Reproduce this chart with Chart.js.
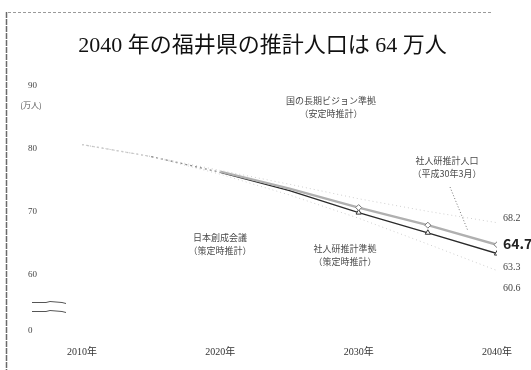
<!DOCTYPE html>
<html>
<head>
<meta charset="utf-8">
<script src="https://cdn.jsdelivr.net/npm/chart.js@4/dist/chart.umd.min.js"></script>
<style>
  html, body { margin: 0; padding: 0; background: #fff; }
  #wrap { width: 531px; height: 370px; position: relative; }
</style>
</head>
<body>
<div id="wrap"><canvas id="c"></canvas></div>
<script>
// 福井県の将来推計人口（万人）
const years = [2010, 2015, 2020, 2025, 2030, 2035, 2040];
const kuniVision = [80.6, 78.7, 76.5, 74.3, 72.0, 70.0, 68.2];  // 国の長期ビジョン準拠（安定時推計）
const ipssH30   = [80.6, 78.7, 76.3, 73.6, 70.6, 67.8, 64.7];   // 社人研推計人口（平成30年3月）
const ipssBase  = [80.6, 78.7, 76.2, 73.3, 69.8, 66.6, 63.3];   // 社人研推計準拠（策定時推計）
const sosei     = [80.6, 78.7, 75.9, 72.6, 68.9, 64.8, 60.6];   // 日本創成会議（策定時推計）
const xTickYears = [2010, 2020, 2030, 2040];
const yTickValues = [60, 70, 80, 90];
const axisFloor = 51;   // lower end of the broken axis, shown as 0

const titleText = '2040 年の福井県の推計人口は 64 万人';
const serif = '"Liberation Serif", "DejaVu Serif", "Noto Sans CJK JP", serif';
const gothic = '"Noto Sans CJK JP", sans-serif';

const pts = arr => years.map((x, i) => ({ x, y: arr[i] }));
const markFrom2030 = r => ctx => (ctx.raw && ctx.raw.x >= 2030 ? r : 0);

const datasets = [
  { label: '国の長期ビジョン準拠', data: pts(kuniVision), borderColor: '#cfcfcf', borderWidth: 1,
    borderDash: [1, 3], pointRadius: 0, endOffset: -4, endFont: 'normal 10px ' + serif },
  { label: '日本創成会議', data: pts(sosei), borderColor: '#cfcfcf', borderWidth: 1,
    borderDash: [1, 3], pointRadius: 0, endOffset: 18, endFont: 'normal 10px ' + serif },
  { label: '社人研推計人口', data: pts(ipssH30), borderColor: '#b0b0b0', borderWidth: 2.4,
    pointRadius: markFrom2030(3), pointStyle: 'rectRot', pointBackgroundColor: '#fff',
    pointBorderColor: '#777', pointBorderWidth: 1,
    segment: { borderColor: c => (c.p0.parsed.x < 2020 ? 'rgba(0,0,0,0)' : '#b0b0b0') },
    endOffset: -1, endFont: 'bold 14px ' + gothic },
  { label: '社人研推計人口（内側）', data: pts(ipssH30), borderColor: '#fff', borderWidth: 0.8,
    pointRadius: 0, segment: { borderColor: c => (c.p0.parsed.x < 2020 ? 'rgba(0,0,0,0)' : '#fff') } },
  { label: '社人研推計準拠', data: pts(ipssBase), borderColor: '#2a2a2a', borderWidth: 1.3,
    pointRadius: markFrom2030(3), pointStyle: 'triangle', pointBackgroundColor: '#fff',
    pointBorderColor: '#333', pointBorderWidth: 1,
    segment: {
      borderColor: c => (c.p0.parsed.x < 2015 ? '#c4c4c4' : c.p0.parsed.x < 2020 ? '#8a8a8a' : '#2a2a2a'),
      borderDash: c => (c.p0.parsed.x < 2020 ? [2, 3] : undefined)
    },
    endOffset: 14, endFont: 'normal 10px ' + serif }
];

// text notes placed around the plot
const notes = [
  { lines: ['国の長期ビジョン準拠', '（安定時推計）'], x: 331, y: 101 },
  { lines: ['社人研推計人口', '（平成30年3月）'], x: 447, y: 161 },
  { lines: ['日本創成会議', '（策定時推計）'], x: 220, y: 238 },
  { lines: ['社人研推計準拠', '（策定時推計）'], x: 345, y: 249 }
];

const decorations = {
  id: 'decorations',
  afterDraw(chart) {
    const { ctx, scales } = chart;
    const ys = scales.y;
    ctx.save();

    // page frame
    ctx.strokeStyle = '#9a9a9a';
    ctx.lineWidth = 1;
    ctx.setLineDash([3, 2]);
    ctx.beginPath(); ctx.moveTo(8, 12.5); ctx.lineTo(492, 12.5); ctx.stroke();
    ctx.strokeStyle = '#6a6a6a';
    ctx.setLineDash([6, 1]);
    ctx.lineWidth = 1.5;
    ctx.beginPath(); ctx.moveTo(6.5, 12); ctx.lineTo(6.5, 370); ctx.stroke();
    ctx.setLineDash([]);

    // unit under the top tick
    ctx.fillStyle = '#555';
    ctx.font = '8px ' + gothic;
    ctx.textAlign = 'center';
    ctx.textBaseline = 'middle';
    ctx.fillText('(万人)', 31, ys.getPixelForValue(90) + 20);

    // broken-axis marks
    ctx.strokeStyle = '#555';
    ctx.lineWidth = 1;
    const yb = ys.getPixelForValue(axisFloor);
    [yb - 29, yb - 20].forEach(y0 => {
      ctx.beginPath();
      ctx.moveTo(32, y0 + 0.5);
      ctx.lineTo(46, y0 + 0.5);
      ctx.lineTo(50, y0 - 0.5);
      ctx.lineTo(62, y0 + 0.5);
      ctx.lineTo(66, y0 + 1.5);
      ctx.stroke();
    });

    // notes
    ctx.fillStyle = '#4a4a4a';
    ctx.font = '9px ' + gothic;
    notes.forEach(n => n.lines.forEach((t, i) => ctx.fillText(t, n.x, n.y + i * 13)));

    // pointer from the 社人研推計人口 note to its line
    ctx.strokeStyle = '#777';
    ctx.setLineDash([1, 2]);
    ctx.beginPath(); ctx.moveTo(450, 187); ctx.lineTo(468, 231); ctx.stroke();
    ctx.setLineDash([]);

    // 2040 values at the line ends
    ctx.textAlign = 'left';
    chart.data.datasets.forEach((ds, i) => {
      if (ds.endOffset === undefined) return;
      const meta = chart.getDatasetMeta(i);
      const last = meta.data[meta.data.length - 1];
      const v = ds.data[ds.data.length - 1].y;
      ctx.font = ds.endFont;
      ctx.fillStyle = ds.endFont.startsWith('bold') ? '#222' : '#444';
      ctx.fillText(v.toFixed(1), last.x + 6, last.y + ds.endOffset);
    });
    ctx.restore();
  }
};

new Chart(document.getElementById('c'), {
  type: 'line',
  data: { datasets },
  options: {
    responsive: true,
    maintainAspectRatio: false,
    animation: false,
    layout: { padding: { left: 28, right: 34, top: 0, bottom: 9 } },
    plugins: {
      legend: { display: false },
      tooltip: { enabled: false },
      title: {
        display: true,
        text: titleText,
        color: '#111',
        font: { family: serif, size: 22, weight: 'normal' },
        padding: { top: 33, bottom: 26 }
      }
    },
    scales: {
      x: {
        type: 'linear',
        min: 2010,
        max: 2040,
        grid: { display: false, drawTicks: false },
        border: { display: false },
        afterFit: s => { s.height = 30; },
        afterBuildTicks: s => { s.ticks = xTickYears.map(v => ({ value: v })); },
        ticks: {
          padding: 15,
          color: '#333',
          font: { family: serif, size: 10 },
          callback: v => v + '年'
        }
      },
      y: {
        type: 'linear',
        min: axisFloor,
        max: 90,
        grid: { display: false, drawTicks: false },
        border: { display: false },
        afterFit: s => { s.width = 54; },
        afterBuildTicks: s => { s.ticks = [axisFloor, ...yTickValues].map(v => ({ value: v })); },
        ticks: {
          padding: 0,
          crossAlign: 'far',
          color: '#444',
          font: { family: serif, size: 9 },
          callback: v => (v === axisFloor ? '0' : String(v))
        }
      }
    }
  },
  plugins: [decorations]
});
</script>
</body>
</html>
